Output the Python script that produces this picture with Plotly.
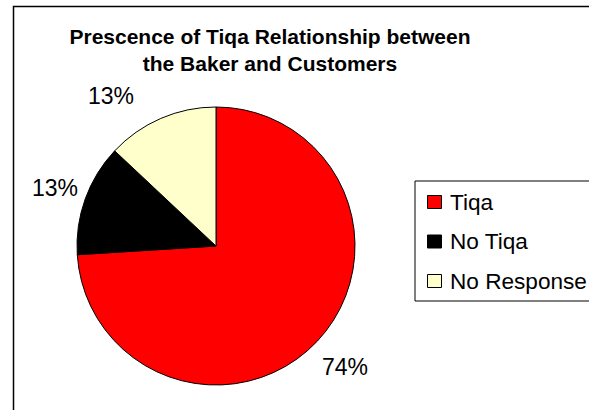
import math
import plotly.graph_objects as go

# Survey responses (percent of respondents)
categories = ["Tiqa", "No Tiqa", "No Response"]
shares = [74, 13, 13]
colors = ["#FF0000", "#000000", "#FFFFCC"]

W, H = 589, 410
FONT = "Arial, Liberation Sans, sans-serif"

# pie placement in pixels (center and radius)
cx, cy, r = 216, 246, 139

def px_x(v):
    return v / W

def px_y(v):
    return 1 - v / H

fig = go.Figure(
    go.Pie(
        labels=categories,
        values=shares,
        sort=False,
        direction="clockwise",
        rotation=0,
        marker=dict(colors=colors, line=dict(color="#000000", width=1)),
        textinfo="none",
        hoverinfo="label+percent",
        showlegend=False,
        domain=dict(
            x=[px_x(cx - r), px_x(cx + r)],
            y=[px_y(cy + r), px_y(cy - r)],
        ),
    )
)

# percentage labels placed outside each slice, along its bisector
label_style = {  # radial distance factor, angular nudge (deg)
    0: (1.27, 0.0),
    1: (1.23, 0.0),
    2: (1.32, -11.6),
}
total = sum(shares)
start = 0.0
for i, v in enumerate(shares):
    span = 360.0 * v / total
    k, nudge = label_style[i]
    ang = math.radians(start + span / 2 + nudge)
    lx = cx + k * r * math.sin(ang)
    ly = cy - k * r * math.cos(ang)
    fig.add_annotation(
        x=px_x(lx), y=px_y(ly), xref="paper", yref="paper",
        text=f"{round(100 * v / total)}%", showarrow=False,
        font=dict(family=FONT, size=23, color="#000000"),
        xanchor="center", yanchor="middle",
    )
    start += span

# chart-area frame
fig.add_shape(
    type="rect", xref="paper", yref="paper",
    x0=px_x(13.5), x1=1.05, y0=-0.05, y1=px_y(6.5),
    line=dict(color="#000000", width=1.5), fillcolor="rgba(0,0,0,0)",
)

# legend: framed box with a swatch and label per category
lg_left, lg_top, lg_bottom = 415, 181, 301
row0, row_gap = 202, 39.5
fig.add_shape(
    type="rect", xref="paper", yref="paper",
    x0=px_x(lg_left), x1=1.05, y0=px_y(lg_bottom), y1=px_y(lg_top),
    line=dict(color="#000000", width=1), fillcolor="#FFFFFF",
)
for i, (name, col) in enumerate(zip(categories, colors)):
    yc = row0 + i * row_gap
    fig.add_shape(
        type="rect", xref="paper", yref="paper",
        x0=px_x(427.5), x1=px_x(441.5), y0=px_y(yc + 6.5), y1=px_y(yc - 6.5),
        line=dict(color="#000000", width=1), fillcolor=col,
    )
    fig.add_annotation(
        x=px_x(448), y=px_y(yc), xref="paper", yref="paper",
        text=name, showarrow=False,
        font=dict(family=FONT, size=22.6, color="#000000"),
        xanchor="left", yanchor="middle",
    )

fig.update_layout(
    width=W, height=H,
    margin=dict(l=0, r=0, t=0, b=0, autoexpand=False),
    paper_bgcolor="#FFFFFF",
    plot_bgcolor="#FFFFFF",
    title=dict(
        text="<b>Prescence of Tiqa Relationship between<br>the Baker and Customers</b>",
        x=270 / W, xanchor="center", xref="paper",
        y=px_y(44), yanchor="top", yref="container",
        font=dict(family=FONT, size=21, color="#000000"),
    ),
    showlegend=False,
)

fig.write_html("out.html")
